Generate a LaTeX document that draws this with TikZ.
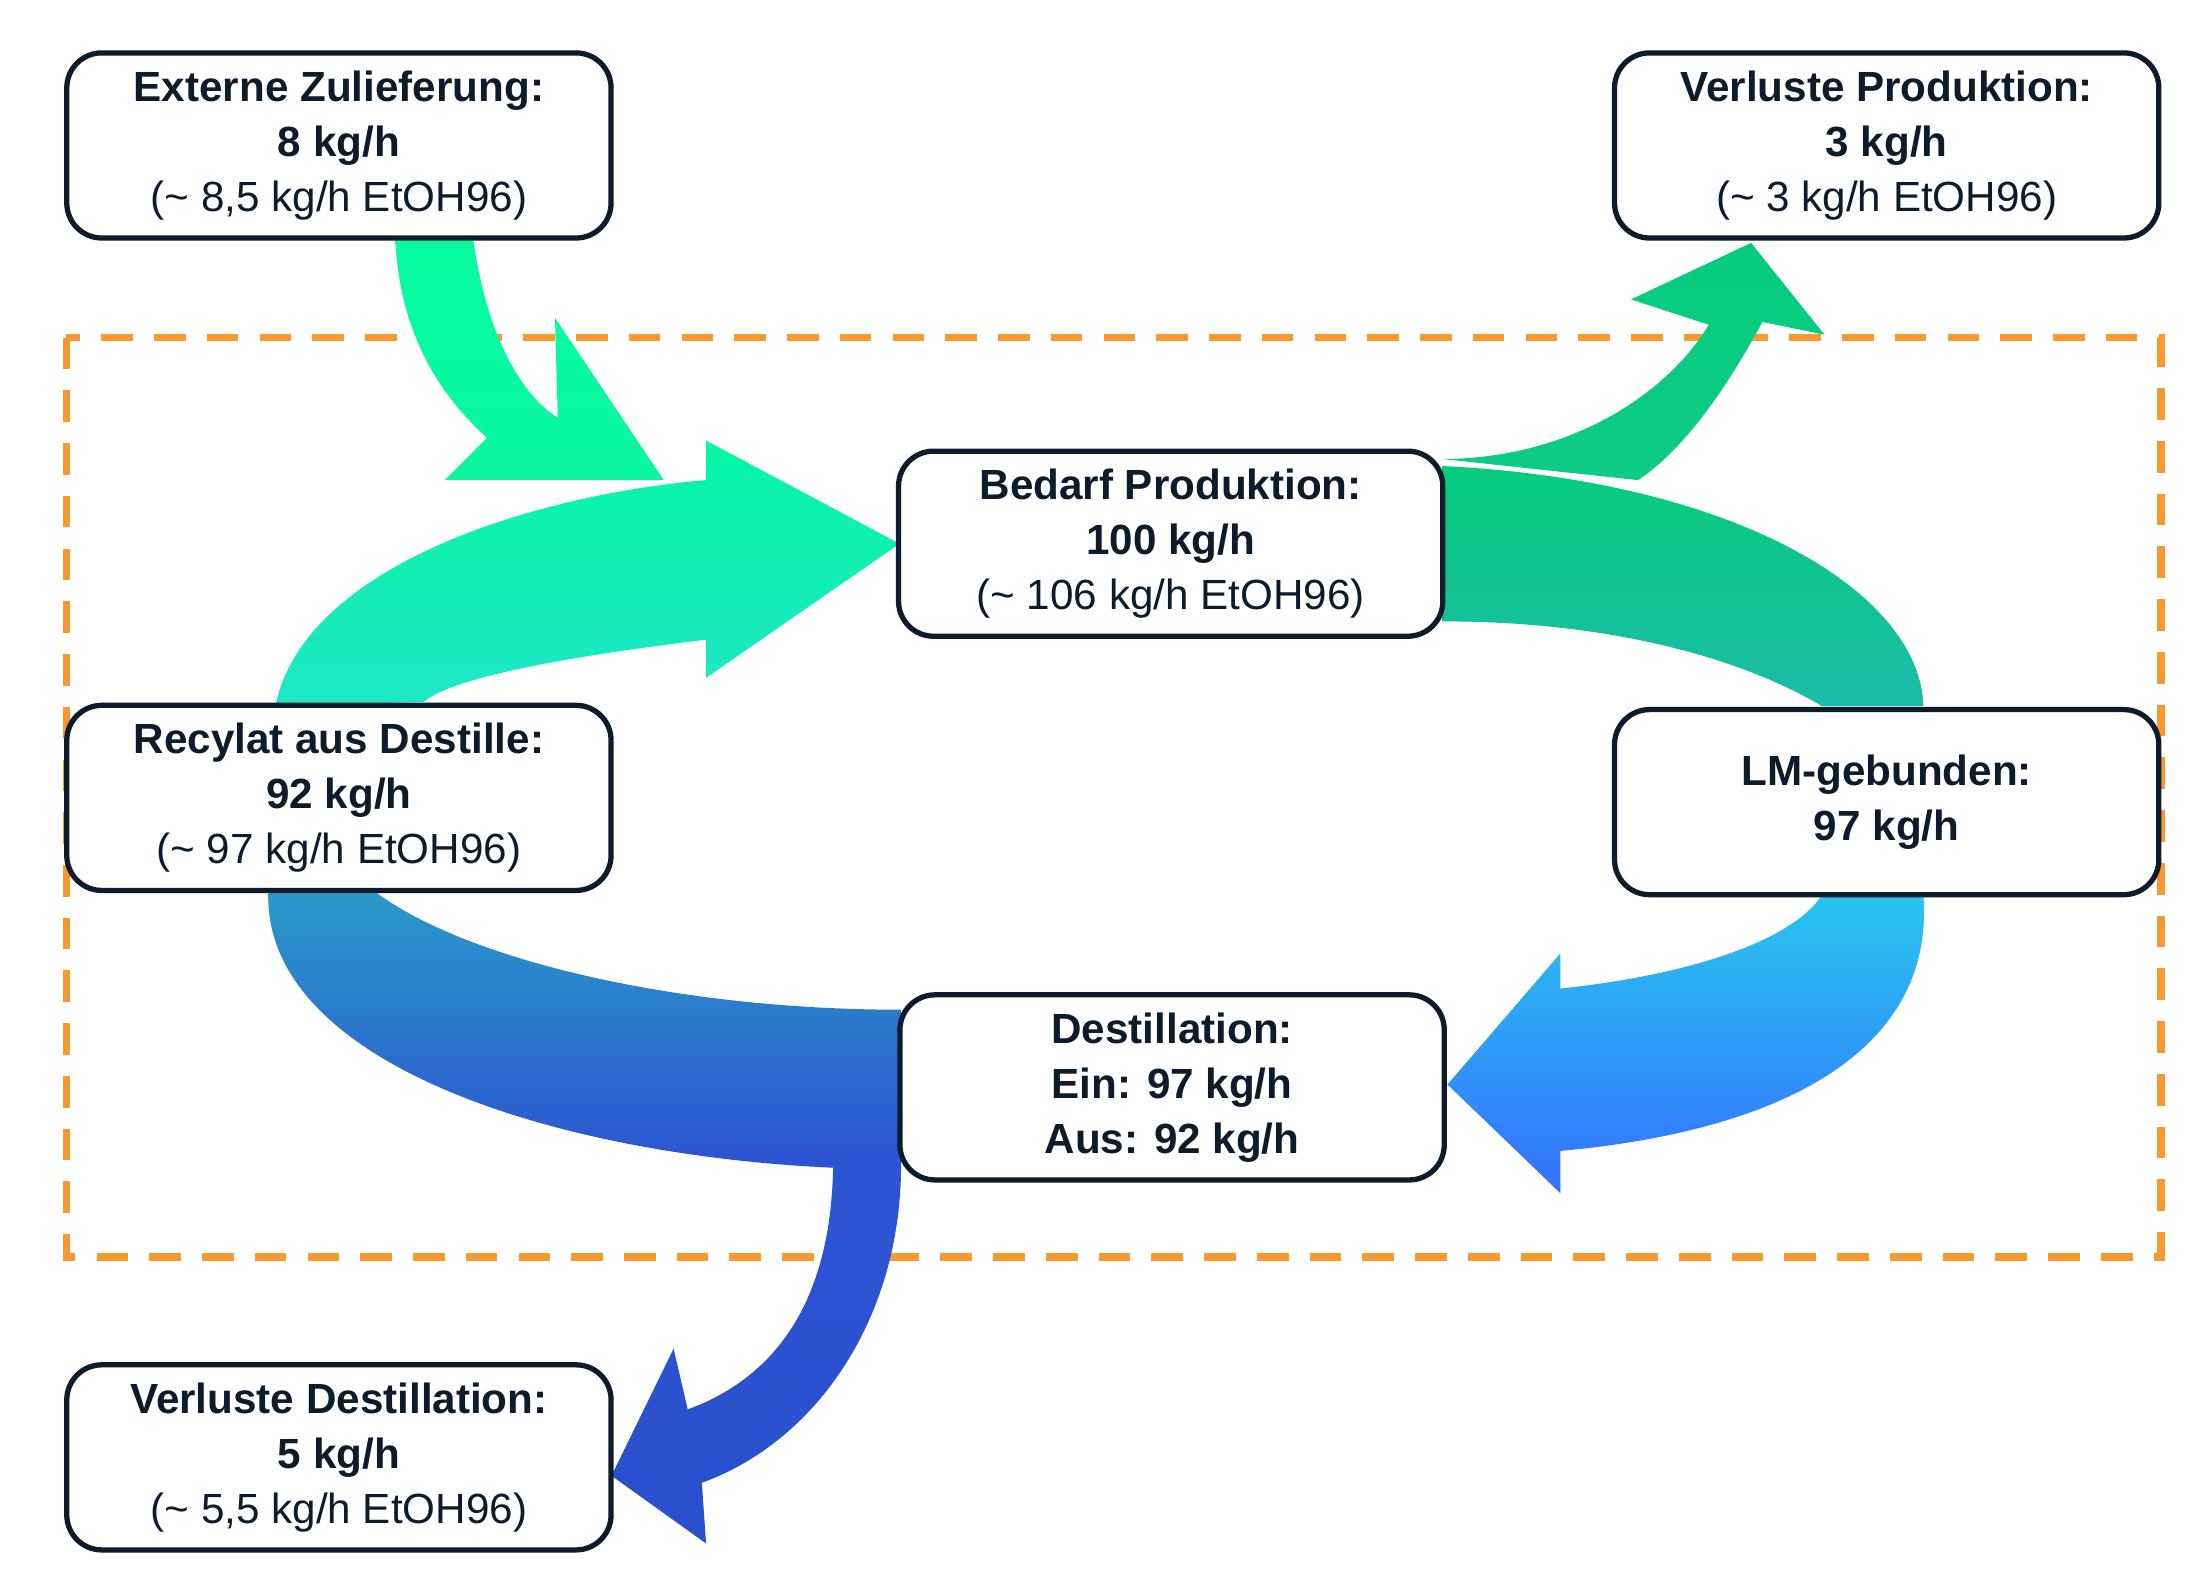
\documentclass[tikz,border=0pt]{standalone}
\usepackage{fontspec}
\setmainfont{Liberation Sans}
\definecolor{navy}{HTML}{0D1B2A}
\definecolor{frameOrange}{HTML}{F7992E}
\definecolor{cA}{HTML}{06F7A4}
\definecolor{cB}{HTML}{1FE6C6}
\definecolor{cC}{HTML}{06FBA0}
\definecolor{cD}{HTML}{0AF6A2}
\definecolor{cE}{HTML}{06CC7C}
\definecolor{cF}{HTML}{0ECB88}
\definecolor{cG}{HTML}{1CBBA8}
\definecolor{cH}{HTML}{28C6EE}
\definecolor{cI}{HTML}{3570FF}
\definecolor{cJ}{HTML}{2A9AC8}
\definecolor{cK}{HTML}{2C52D2}
\definecolor{cL}{HTML}{2C55D4}
\definecolor{cM}{HTML}{2B4FCC}
\tikzset{
  box/.style={rectangle, rounded corners=0.35cm, draw=navy, line width=1.5pt, fill=white,
    minimum width=5.44cm, minimum height=1.85cm, align=center, text=navy,
    font=\fontsize{12}{15.6}\selectfont},
  band/.style={draw=none}
}
\begin{document}
\begin{tikzpicture}[x=0.01412cm, y=-0.01412cm]
\useasboundingbox (0,0) rectangle (1560,1124);

% system boundary
\draw[frameOrange, line width=2.2pt, dash pattern=on 9pt off 6pt] (47,239) rectangle (1530,890);

% flows
\shade[band, top color=cA, bottom color=cB]
  (195,500) .. controls (215,400) and (380,350) .. (500,340) -- (500,312) -- (637,385)
  -- (500,480) -- (500,453) .. controls (400,465) and (320,480) .. (300,497) -- cycle;
\shade[band, top color=cC, bottom color=cD]
  (280,169) -- (335,169) .. controls (345,240) and (370,280) .. (395,296)
  -- (393,225) -- (470,340) -- (315,340) -- (345,310)
  .. controls (300,270) and (282,220) .. cycle;
\shade[band, top color=cE, bottom color=cF]
  (1021,325) .. controls (1110,325) and (1180,280) .. (1210,230) -- (1155,212) -- (1240,172)
  -- (1292,237) -- (1248,228) .. controls (1220,280) and (1190,320) .. (1160,340) -- cycle;
\shade[band, top color=cE, bottom color=cG]
  (1021,330) .. controls (1230,340) and (1360,420) .. (1362,500) -- (1290,500)
  .. controls (1240,470) and (1150,440) .. (1021,440) -- cycle;
\shade[band, top color=cH, bottom color=cI]
  (1362,634) .. controls (1370,740) and (1270,800) .. (1105,815) -- (1105,845)
  -- (1025,768) -- (1105,675) -- (1105,700) .. controls (1200,690) and (1270,665) .. (1290,634) -- cycle;
\shade[band, top color=cJ, bottom color=cK]
  (190,631) .. controls (185,760) and (420,828) .. (638,828) -- (638,715)
  .. controls (480,715) and (330,680) .. (265,631) -- cycle;
\shade[band, top color=cL, bottom color=cM]
  (590,820) -- (638,820) .. controls (640,930) and (580,1020) .. (497,1050) -- (500,1093)
  -- (433,1045) -- (477,955) -- (487,998) .. controls (550,975) and (590,920) .. cycle;

% boxes
\node[box] (extern) at (240,103) {\textbf{Externe Zulieferung:}\\\textbf{8 kg/h}\\(\textasciitilde{} 8,5 kg/h EtOH96)};
\node[box] (verlprod) at (1336,103) {\textbf{Verluste Produktion:}\\\textbf{3 kg/h}\\(\textasciitilde{} 3 kg/h EtOH96)};
\node[box] (bedarf) at (829,385) {\textbf{Bedarf Produktion:}\\\textbf{100 kg/h}\\(\textasciitilde{} 106 kg/h EtOH96)};
\node[box] (recylat) at (240,565) {\textbf{Recylat aus Destille:}\\\textbf{92 kg/h}\\(\textasciitilde{} 97 kg/h EtOH96)};
\node[box] (lm) at (1336,568) {\textbf{LM-gebunden:}\\\textbf{97 kg/h}};
\node[box] (destill) at (830,770) {\textbf{Destillation:}\\\textbf{Ein: 97 kg/h}\\\textbf{Aus: 92 kg/h}};
\node[box] (verldest) at (240,1032) {\textbf{Verluste Destillation:}\\\textbf{5 kg/h}\\(\textasciitilde{} 5,5 kg/h EtOH96)};
\end{tikzpicture}
\end{document}
